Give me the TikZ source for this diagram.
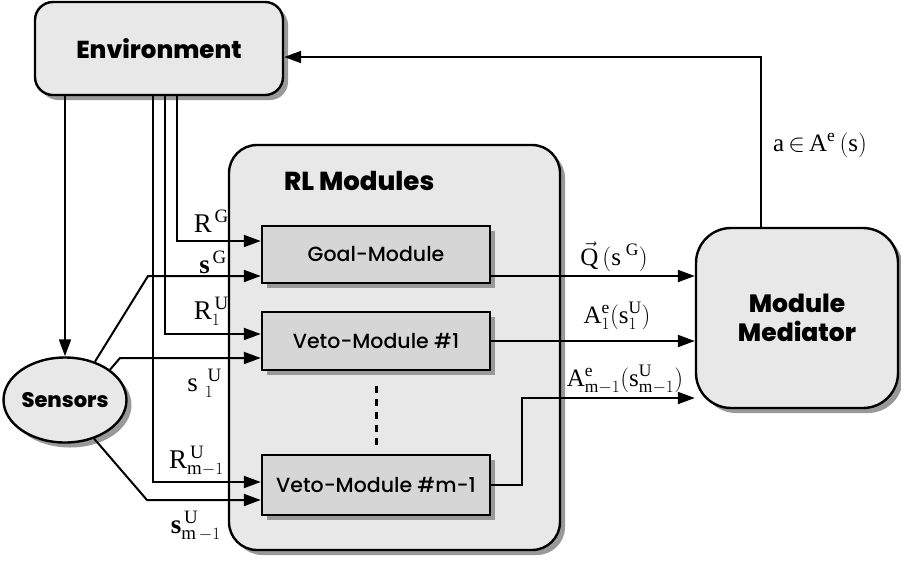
\documentclass[tikz,border=0pt]{standalone}
\usepackage{fontspec}
\setmainfont{Liberation Serif}
\newfontfamily\popfont{Poppins Medium}
\newfontfamily\popheavy{Poppins ExtraBold}
\usetikzlibrary{arrows.meta,shapes.geometric,shadows}
\definecolor{boxfill}{HTML}{E8E8E8}
\definecolor{modfill}{HTML}{D6D6D6}
\definecolor{shade}{HTML}{999999}
\tikzset{
  shad/.style={drop shadow={shadow xshift=5pt,shadow yshift=-5pt,fill=shade,opacity=1}},
  bigbox/.style={draw,line width=2.4pt,fill=boxfill,shad,inner sep=0pt},
  modbox/.style={draw,line width=2.4pt,fill=modfill,shad,minimum width=228pt,inner sep=0pt,
    font=\popfont\fontsize{20.5}{24}\selectfont},
  heading/.style={font=\popheavy\fontsize{24.5}{28}\selectfont},
  wire/.style={line width=2pt},
  arr/.style={wire,-{Triangle[length=17pt,width=12pt]}},
  lbl/.style={inner sep=0pt,font=\fontsize{27}{31}\selectfont},
}
\begin{document}
\begin{tikzpicture}[x=1pt,y=-1pt]
\useasboundingbox (0,0) rectangle (901,560);

% containers
\node[bigbox,rounded corners=28pt,minimum width=331pt,minimum height=405pt] (rl) at (394.5,347.5) {};
\node[heading,anchor=west,inner sep=0pt,font=\popheavy\fontsize{26}{30}\selectfont] (rltitle) at (284,181) {RL Modules};
\node[bigbox,rounded corners=18pt,minimum width=248pt,minimum height=93pt,heading] (env) at (159,48.5) {Environment};
\node[bigbox,rounded corners=35pt,minimum width=202pt,minimum height=180pt,align=center,
  font=\popheavy\fontsize{25}{29}\selectfont] (med) at (797,318) {Module\\Mediator};
\node[bigbox,ellipse,minimum width=106pt,minimum height=85pt,
  font=\popheavy\fontsize{21}{24}\selectfont] (sens) at (65,400) {Sensors};

% bend points of the sensor wires
\coordinate (kG) at (148,276);
\coordinate (k1) at (120,358);
\coordinate (km) at (147,500);
\coordinate (kout) at (522,398);
\coordinate (ktop) at (761,57);

% environment to sensors
\draw[arr] (env.south -| sens.north) -- (sens.north);

% modules
\node[modbox,minimum height=57pt] (goal) at (376,254.5) {Goal-Module};
\node[modbox,minimum height=58pt] (veto1) at (376,341) {Veto-Module \#1};
\node[modbox,minimum height=60pt] (vetom) at (376,485) {Veto-Module \#m-1};
\draw[line width=3pt,dash pattern=on 7pt off 6pt] (veto1.south |- 0,386) -- (vetom.north |- 0,450);

% rewards from the environment
\draw[arr] (env.south -| 177,0) |- (goal.west |- 0,241);
\draw[arr] (env.south -| 165,0) |- (veto1.west |- 0,334);
\draw[arr] (env.south -| 153,0) |- (vetom.west |- 0,482);

% states from the sensors
\draw[arr] (sens.52) -- (kG) -- (goal.west |- kG);
\draw[arr] (sens.34) -- (k1) -- (veto1.west |- k1);
\draw[arr] (sens.-53) -- (km) -- (vetom.west |- km);

% module outputs
\draw[arr] (goal.east |- 0,276) -- (med.west |- 0,276);
\draw[arr] (veto1.east) -- (med.west |- veto1.east);
\draw[arr] (vetom.east) -| (kout) -- (med.west |- kout);

% action back to the environment
\draw[arr] (med.north -| ktop) -- (ktop) -- (env.east |- ktop);

% labels
\node[lbl,anchor=base east] (lRG) at (229,232) {$\mathrm{R}^{\,\mathrm{G}}$};
\node[lbl,anchor=base east] (lsG) at (227,273) {$\mathbf{s}^{\,\mathrm{G}}$};
\node[lbl,anchor=base east] (lR1) at (229,319) {$\mathrm{R}_{1}^{\,\mathrm{U}}$};
\node[lbl,anchor=base east] (ls1) at (222,391) {$\mathrm{s}\;{}_{1}^{\,\mathrm{U}}$};
\node[lbl,anchor=base east] (lRm) at (224,468) {$\mathrm{R}_{\mathrm{m}-1}^{\,\mathrm{U}}$};
\node[lbl,anchor=base east] (lsm) at (221,533) {$\mathbf{s}_{\mathrm{m}\,-1}^{\,\mathrm{U}}$};
\node[lbl,anchor=base,font=\fontsize{25}{29}\selectfont] (lQ) at (614,265) {$\vec{\mathrm{Q}}\,(\mathrm{s}^{\;\mathrm{G}})$};
\node[lbl,anchor=base,font=\fontsize{25}{29}\selectfont] (lA1) at (617,323) {$\mathrm{A}_{1}^{\mathrm{e}}(\mathrm{s}_{1}^{\mathrm{U}})$};
\node[lbl,anchor=base,font=\fontsize{25}{29}\selectfont] (lAm) at (625,386) {$\mathrm{A}_{\mathrm{m}-1}^{\mathrm{e}}\bigl(\mathrm{s}_{\mathrm{m}-1}^{\mathrm{U}}\bigr)$};
\node[lbl,anchor=base west,font=\fontsize{25}{29}\selectfont] (la) at (773,151) {$\mathrm{a}\,{\in}\,\mathrm{A}^{\mathrm{e}}\,(\mathrm{s})$};
\end{tikzpicture}
\end{document}
